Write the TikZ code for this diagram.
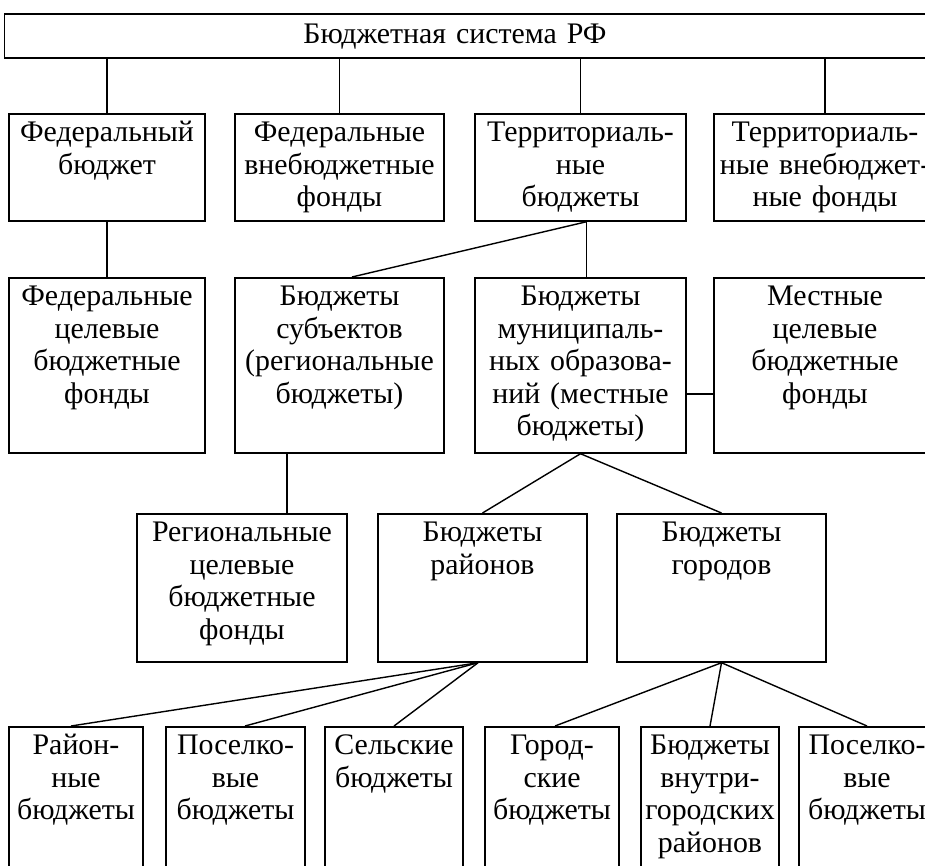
\documentclass[tikz,border=0pt]{standalone}
\usepackage{fontspec}
\setmainfont{Liberation Serif}
\begin{document}
\begin{tikzpicture}[x=0.02cm, y=-0.02cm]
    \tikzstyle{block} = [draw, line width=1pt, inner sep=0pt, align=center, anchor=north, text height=0.56cm, font=\fontsize{17}{18.5}\selectfont]
    \tikzstyle{link} = [line width=0.8pt]
    \clip (0, 0) rectangle (925, 865);
    \node[block, text width=18.7cm, text height=0.6cm, text depth=0.28cm] (system) at (472, 13) {\hspace*{-0.68cm}Бюджетная система РФ};
    \node[block, text width=3.92cm, text depth=1.58cm] (fed) at (107, 113) {Федеральный\\бюджет};
    \node[block, text width=4.18cm, text depth=1.58cm] (fedfunds) at (339.5, 113) {Федеральные\\внебюджетные\\фонды};
    \node[block, text width=4.22cm, text depth=1.58cm] (terr) at (580.5, 113) {Территориаль-\\ные\\бюджеты};
    \node[block, text width=4.44cm, text depth=1.58cm] (terrfunds) at (825, 113) {Территориаль-\\ные внебюджет-\\ные фонды};
    \node[block, text width=3.92cm, text depth=2.94cm] (fedtarget) at (107, 277) {Федеральные\\целевые\\бюджетные\\фонды};
    \node[block, text width=4.18cm, text depth=2.94cm] (subj) at (339.5, 277) {Бюджеты\\субъектов\\(региональные\\бюджеты)};
    \node[block, text width=4.22cm, text depth=2.94cm] (munic) at (580.5, 277) {Бюджеты\\муниципаль-\\ных образова-\\ний (местные\\бюджеты)};
    \node[block, text width=4.44cm, text depth=2.94cm] (loctarget) at (825, 277) {Местные\\целевые\\бюджетные\\фонды};
    \node[block, text width=4.2cm, text depth=2.4cm] (regtarget) at (242, 513) {Региональные\\целевые\\бюджетные\\фонды};
    \node[block, text width=4.18cm, text depth=2.4cm] (districts) at (482.5, 513) {Бюджеты\\районов};
    \node[block, text width=4.18cm, text depth=2.4cm] (cities) at (721.5, 513) {Бюджеты\\городов};
    \node[block, text width=2.68cm, text depth=2.92cm] (distr) at (76, 726) {Район-\\ные\\бюджеты};
    \node[block, text width=2.78cm, text depth=2.92cm] (settl) at (235.5, 726) {Поселко-\\вые\\бюджеты};
    \node[block, text width=2.76cm, text depth=2.92cm] (rural) at (394, 726) {Сельские\\бюджеты};
    \node[block, text width=2.68cm, text depth=2.92cm] (urban) at (552, 726) {Город-\\ские\\бюджеты};
    \node[block, text width=2.76cm, text depth=2.92cm] (intra) at (710, 726) {Бюджеты\\внутри-\\городских\\районов};
    \node[block, text width=2.72cm, text depth=2.92cm] (citysettl) at (867, 726) {Поселко-\\вые\\бюджеты};
    \draw[link] (system.south -| fed.north) -- (fed.north);
    \draw[link] (system.south -| fedfunds.north) -- (fedfunds.north);
    \draw[link] (system.south -| terr.north) -- (terr.north);
    \draw[link] (system.south -| terrfunds.north) -- (terrfunds.north);
    \draw[link] (fed.south) -- (fedtarget.north);
    \draw[link] ([xshift=0.12cm]terr.south) -- ([xshift=0.25cm]subj.north);
    \draw[link] ([xshift=0.12cm]terr.south) -- ([xshift=0.12cm]munic.north);
    \draw[link] ([yshift=-0.57cm]munic.east) -- ([yshift=-0.57cm]loctarget.west);
    \draw[link] ([xshift=-1.05cm]subj.south) coordinate (subjout) -- (subjout |- regtarget.north);
    \draw[link] (munic.south) -- (districts.north);
    \draw[link] (munic.south) -- (cities.north);
    \draw[link] ([xshift=-0.09cm]districts.south) -- ([xshift=-0.1cm]distr.north);
    \draw[link] ([xshift=-0.09cm]districts.south) -- ([xshift=0.19cm]settl.north);
    \draw[link] ([xshift=-0.09cm]districts.south) -- (rural.north);
    \draw[link] (cities.south) -- ([xshift=0.06cm]urban.north);
    \draw[link] (cities.south) -- (intra.north);
    \draw[link] (cities.south) -- (citysettl.north);
\end{tikzpicture}
\end{document}
